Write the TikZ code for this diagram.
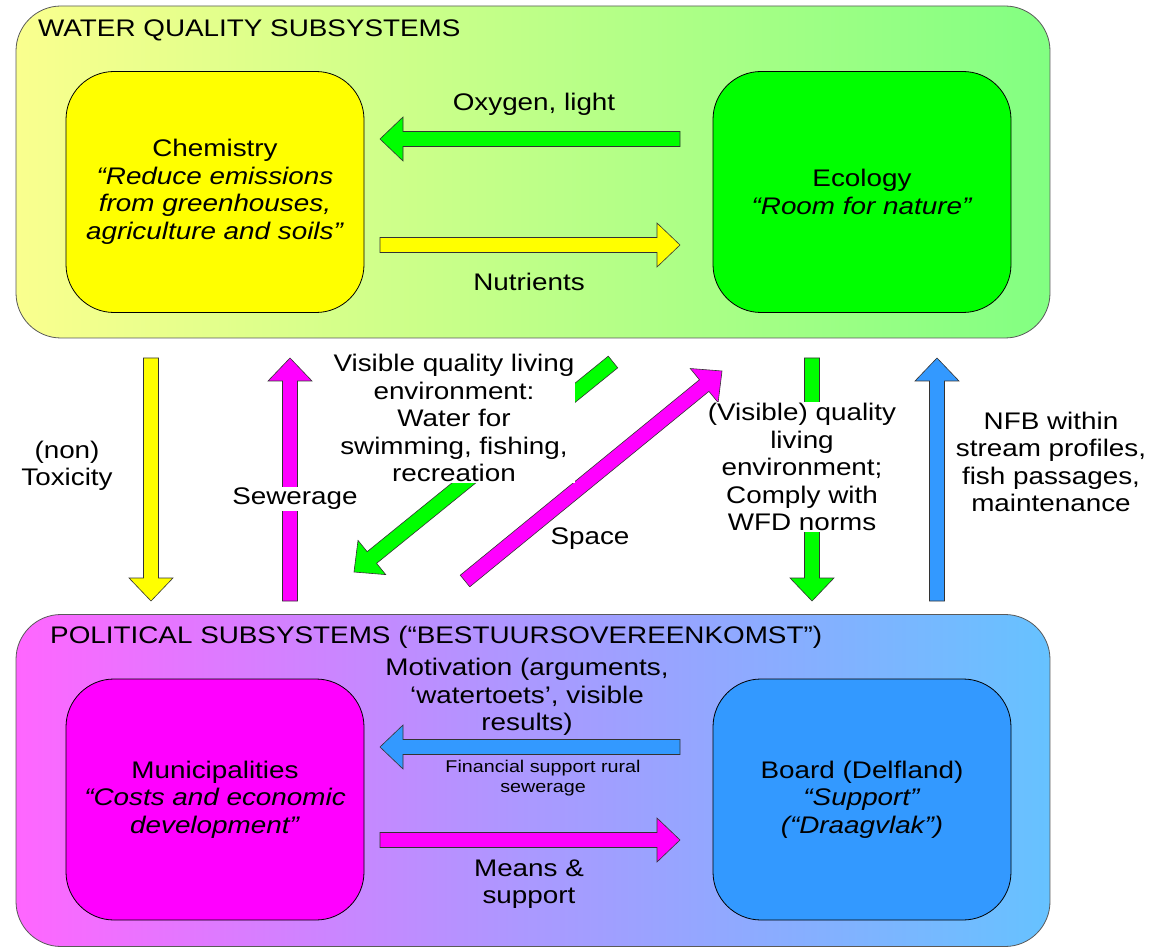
\documentclass[tikz,border=0pt]{standalone}
\usepackage{fontspec}
\setmainfont{Liberation Sans}[FakeStretch=1.16]
\usetikzlibrary{calc}
\definecolor{cgreen}{HTML}{00FF00}
\definecolor{cyellow}{HTML}{FFFF00}
\definecolor{cmagenta}{HTML}{FF00FF}
\definecolor{cblue}{HTML}{3399FF}
\definecolor{topL}{HTML}{FAFF8E}
\definecolor{topR}{HTML}{82FF82}
\definecolor{botL}{HTML}{FF66FF}
\definecolor{botM}{HTML}{AA99FF}
\definecolor{botR}{HTML}{66C2FF}
\newcommand\bigfont{\fontsize{24}{27.5}\selectfont}
\newcommand\smallfont{\fontsize{17}{20}\selectfont}
\tikzset{
  outerbox/.style={draw=black!65, line width=0.8pt, rounded corners=45pt,
    minimum width=1034pt, minimum height=332pt, inner sep=0pt},
  innerbox/.style={draw=black, line width=0.8pt, rounded corners=48pt,
    minimum width=298pt, minimum height=241pt, align=center, font=\bigfont},
  lbl/.style={align=center, font=\bigfont, inner sep=1pt, text=black},
  wlbl/.style={lbl, fill=white},
  titlelbl/.style={anchor=west, font=\bigfont, inner sep=0pt},
  arrowline/.style={draw=black!80, line width=0.6pt, line join=miter},
}
% block arrow: from #1 to #2, fill colour #3
\newcommand\barrow[3]{%
  \coordinate (hb) at ($(#2)!23pt!(#1)$);
  \draw[arrowline, fill=#3]
    ($(#1)!7.5pt!90:(#2)$) -- ($(hb)!7.5pt!90:(#2)$) -- ($(hb)!22pt!90:(#2)$)
    -- (#2) -- ($(hb)!22pt!-90:(#2)$) -- ($(hb)!7.5pt!-90:(#2)$)
    -- ($(#1)!7.5pt!-90:(#2)$) -- cycle;}
\begin{document}
\begin{tikzpicture}[x=1pt, y=-1pt]
\useasboundingbox (0,0) rectangle (1151,949);
\fill[white] (0,0) rectangle (1151,949);

% outer boxes
\node[outerbox, left color=topL, right color=topR] (water) at (533,172) {};
\node[outerbox, left color=botL, right color=botR, middle color=botM] (polit) at (533,780.5) {};
\node[titlelbl] (wtitle) at (38,30) {WATER QUALITY SUBSYSTEMS};
\node[titlelbl] (ptitle) at (50,637) {POLITICAL SUBSYSTEMS (“BESTUURSOVEREENKOMST”)};

% inner boxes
\node[innerbox, fill=cyellow] (chem) at (215,192)
  {Chemistry\\\textit{“Reduce emissions}\\\textit{from greenhouses,}\\\textit{agriculture and soils”}};
\node[innerbox, fill=cgreen] (eco) at (862,192)
  {Ecology\\\textit{“Room for nature”}};
\node[innerbox, fill=cmagenta] (muni) at (215,799.5)
  {Municipalities\\\textit{“Costs and economic}\\\textit{development”}};
\node[innerbox, fill=cblue] (board) at (862,799.5)
  {Board (Delfland)\\\textit{“Support”}\\\textit{(“Draagvlak”)}};

% arrow end points
\coordinate (oxA) at (680,139);  \coordinate (oxB) at (380,139);
\coordinate (nuA) at (380,245);  \coordinate (nuB) at (680,245);
\coordinate (moA) at (680,747);  \coordinate (moB) at (380,747);
\coordinate (meA) at (380,840);  \coordinate (meB) at (680,840);
\coordinate (toA) at (151,358);  \coordinate (toB) at (151,601);
\coordinate (seA) at (290,601);  \coordinate (seB) at (290,358);
\coordinate (viA) at (613,362);  \coordinate (viB) at (354,572);
\coordinate (spA) at (465,581);  \coordinate (spB) at (722,371);
\coordinate (wfA) at (812,358);  \coordinate (wfB) at (812,601);
\coordinate (nfA) at (937,601);  \coordinate (nfB) at (937,358);

\barrow{oxA}{oxB}{cgreen}
\barrow{nuA}{nuB}{cyellow}
\barrow{moA}{moB}{cblue}
\barrow{meA}{meB}{cmagenta}
\barrow{toA}{toB}{cyellow}
\barrow{seA}{seB}{cmagenta}
\barrow{spA}{spB}{cmagenta}
\barrow{viA}{viB}{cgreen}
\barrow{wfA}{wfB}{cgreen}
\barrow{nfA}{nfB}{cblue}

% labels
\node[lbl] (oxl) at (534,104) {Oxygen, light};
\node[lbl] (nul) at (529,282) {Nutrients};
\node[lbl] (tol) at (67,466) {(non)\\Toxicity};
\node[wlbl] (sel) at (295,499) {Sewerage};
\node[wlbl] (vil) at (454,418) {Visible quality living\\environment:\\Water for\\swimming, fishing,\\recreation};
\node[lbl] (spl) at (590,539) {Space};
\node[wlbl] (wfl) at (802,467) {(Visible) quality\\living\\environment;\\Comply with\\WFD norms};
\node[lbl] (nfl) at (1051,462) {NFB within\\stream profiles,\\fish passages,\\maintenance};
\node[lbl] (mol) at (527,697) {Motivation (arguments,\\‘watertoets’, visible\\results)};
\node[lbl, font=\smallfont] (fil) at (543,778) {Financial support rural\\sewerage};
\node[lbl] (mel) at (529,884) {Means \&\\support};
\end{tikzpicture}
\end{document}
